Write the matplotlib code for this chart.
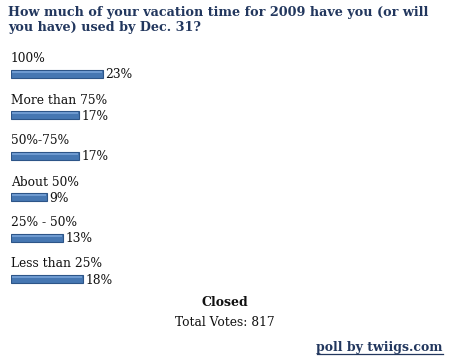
import matplotlib
matplotlib.use("Agg")
import matplotlib.pyplot as plt

categories = ["100%", "More than 75%", "50%-75%", "About 50%", "25% - 50%", "Less than 25%"]
values = [23, 17, 17, 9, 13, 18]
title = "How much of your vacation time for 2009 have you (or will\nyou have) used by Dec. 31?"
total_votes = 817

W, H = 453, 359
fig = plt.figure(figsize=(W / 100, H / 100), dpi=100)
fig.patch.set_facecolor("white")

serif = ["DejaVu Serif"]
navy = "#22375e"

left_px = 11
ax_top = 74 - 20.5
ax_bot = 279 + 20.5
ax = fig.add_axes([left_px / W, 1 - ax_bot / H, 1 - left_px / W, (ax_bot - ax_top) / H])
ax.set_xlim(0, (W - left_px) / 4.0)
ax.set_ylim(len(categories) - 0.5, -0.5)
ax.axis("off")

ys = list(range(len(categories)))
bh = 8 / 41
ax.barh(ys, values, height=bh, color="#4677b2", edgecolor="#2d5588", linewidth=0.8, left=0)
ax.barh([y - bh * 0.25 for y in ys], [v - 0.4 for v in values], height=bh * 0.25,
        color="#6e9ad0", linewidth=0, left=0.2)

for y, c, v in zip(ys, categories, values):
    ax.text(0, y - 15 / 41, c, family=serif, fontsize=8.8, color="#111111", va="center", ha="left")
    ax.text(v + 0.6, y + 1 / 41, f"{v}%", family=serif, fontsize=8.8, color="#111111", va="center", ha="left")

fig.text(8 / W, 1 - 6 / H, title, family=serif, fontsize=9.2, fontweight="bold", color=navy,
         va="top", ha="left", linespacing=1.15)
fig.text(225 / W, 1 - 302 / H, "Closed", family=serif, fontsize=9, fontweight="bold", color="#111111",
         va="center", ha="center")
fig.text(225 / W, 1 - 322 / H, f"Total Votes: {total_votes}", family=serif, fontsize=8.8, color="#111111",
         va="center", ha="center")
t = fig.text(443 / W, 1 - 348 / H, "poll by twiigs.com", family=serif, fontsize=9, fontweight="bold",
             color=navy, va="center", ha="right")
fig.canvas.draw()
bb = t.get_window_extent()
fig.add_artist(plt.Line2D([bb.x0 / W, bb.x1 / W], [(bb.y0 + 1) / H, (bb.y0 + 1) / H],
                          color=navy, linewidth=0.9, transform=fig.transFigure))

fig.savefig("out.png", dpi=100, facecolor="white")
